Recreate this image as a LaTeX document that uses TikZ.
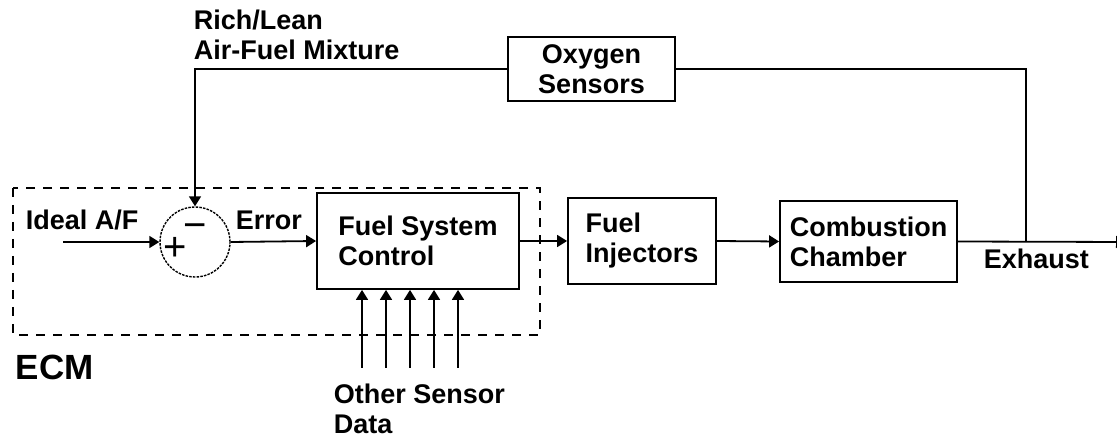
\documentclass[tikz,border=0pt]{standalone}
\usepackage{fontspec}
\setmainfont{Liberation Sans}
\usetikzlibrary{arrows.meta}
\begin{document}
\begin{tikzpicture}[x=1pt,y=-1pt,
  line width=1.8pt,
  arr/.style={-{Triangle[length=10pt,width=12pt]}},
  blockbox/.style={draw,rectangle,inner sep=0pt,align=left,font=\bfseries\fontsize{27}{30}\selectfont},
  lbl/.style={anchor=base west,inner sep=0pt,font=\bfseries\fontsize{27}{30}\selectfont},
  sgn/.style={inner sep=0pt,font=\fontsize{40}{40}\selectfont}]
\useasboundingbox (0,0) rectangle (1117,438);
\clip (0,0) rectangle (1117,438);
% ECM dashed region
\draw[dash pattern=on 9pt off 8pt] (13,188) rectangle (540,335);
\node[lbl,font=\bfseries\fontsize{35}{40}\selectfont] (ecm) at (15,380) {ECM};
% summing junction
\node[draw,circle,minimum size=70pt,inner sep=0pt,line width=1.4pt,dash pattern=on 2.5pt off 1.2pt] (sum) at (195,242) {};
\node[sgn,anchor=base] (minus) at (195,239) {−};
\node[sgn,anchor=base] (plus) at (175,261) {+};
% blocks
\node[blockbox,minimum width=202pt,minimum height=96pt] (fsc) at (418,241) {Fuel System\\Control};
\node[blockbox,minimum width=148pt,minimum height=86pt] (fi) at (642,241) {Fuel\\Injectors};
\node[blockbox,minimum width=177pt,minimum height=81pt] (cc) at (868.5,241.5) {Combustion\\Chamber};
\node[blockbox,align=center,minimum width=167pt,minimum height=64pt] (ox) at (591.5,69) {Oxygen\\Sensors};
% coordinates
\coordinate (in) at (63,242);
\coordinate (tap) at (1026,242);
\coordinate (exend) at (1126,242);
% connectors
\draw[arr] (in) -- (sum.west);
\draw[arr] (sum.east) -- (fsc.west);
\draw[arr] (fsc.east) -- (fi.west);
\draw[arr] (fi.east) -- (cc.west);
\draw[arr] (cc.east) -- (exend);
\draw (tap) |- (ox.east);
\draw[arr] (ox.west) -| (sum.north);
% other sensor inputs
\foreach \i/\x in {1/362,2/386,3/410,4/434,5/458}{
  \coordinate (s\i) at (\x,368);
  \draw[arr] (s\i) -- (s\i |- fsc.south);
}
% labels
\node[lbl] (rl1) at (193,30) {Rich/Lean};
\node[lbl] (rl2) at (193,60) {Air-Fuel Mixture};
\node[lbl] (ideal) at (25,230) {Ideal A/F};
\node[lbl] (err) at (235,230) {Error};
\node[lbl] (exh) at (983,269) {Exhaust};
\node[lbl] (os1) at (333,403) {Other Sensor};
\node[lbl] (os2) at (333,433) {Data};
\end{tikzpicture}
\end{document}
